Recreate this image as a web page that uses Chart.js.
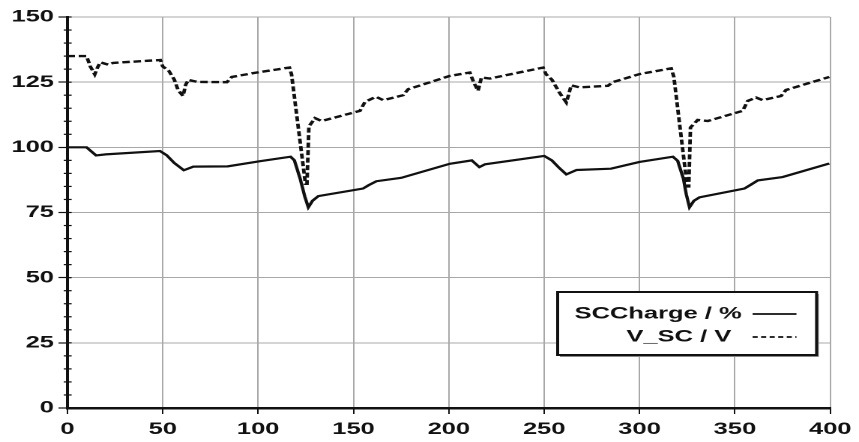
<!DOCTYPE html>
<html>
<head>
<meta charset="utf-8">
<script src="https://cdn.jsdelivr.net/npm/chart.js@4/dist/chart.umd.min.js"></script>
<style>
  html, body { margin: 0; padding: 0; background: #fff; overflow: hidden; }
  #wrap { width: 573px; height: 442px; transform: scaleX(1.4991); transform-origin: 0 0; }
</style>
</head>
<body>
<div id="wrap"><canvas id="c" width="573" height="442"></canvas></div>
<script>
// ---- data ----
const seriesLabels = ['SCCharge / %', 'V_SC / V'];

const chargeTime = [0,10,15,20,48.5,52,56,61,66,84,101,117,119,122,124.5,126.3,128.5,131.6,155,158,162,175,200.5,212,216,219,250,254,258,261.6,267,285,300,317.5,320,323,324.5,326.2,328.5,331.4,355,358,362,375,399.5];
const chargeValue = [100,100,96.9,97.3,98.6,97,94,91.2,92.6,92.7,94.7,96.4,95,88,81,77,79.5,81.3,84.2,85.5,87,88.3,93.7,95,92.4,93.5,96.7,95,92,89.6,91.3,91.8,94.4,96.4,94.8,88,82,77,79.5,80.8,84.2,85.5,87.3,88.6,93.8];

const voltageTime = [0,10,12,14.3,16,17.3,21.5,24,48.7,50,53,56,58,60.6,62,63.4,68,83.6,86.2,99.3,116.4,117.5,124.8,125.6,126.6,129.8,133.3,153.4,156,161.8,165.6,176,178.7,200.5,211,213,215.3,217.1,221.5,249.4,251,254,258,261.6,264.2,268.6,283.4,286,300,316.6,318,325,325.8,326.7,330.5,335.8,354.1,356.7,361.1,364.6,374.2,376.8,399.5];
const voltageValue = [135,135,131,128,131,132.6,131.7,132.4,133.5,131,129.5,126,122,119.7,124,125.9,125.1,125,127,128.7,130.6,128,86,86,108,111.2,110.1,114,117.4,119.4,118.1,120,122.3,127.4,128.7,125,121.7,126.8,126.4,130.6,128,126,121,117.2,123.8,123,123.6,125,128.1,130.3,127,85,85,107.6,110.5,110.1,114,117.8,119.1,118.1,119.7,122,127];

const xMin = 0, xMax = 400, xStep = 50;
const yMin = 0, yMax = 150, yStep = 25, yMinorStep = 5;

// ---- chart ----
const FONT = { family: '"Liberation Sans", Arial, sans-serif', size: 17, weight: 'bold' };
const INK = '#111';
const GRID = '#a8a8a8';

const toPoints = (t, v) => t.map((x, i) => ({ x, y: v[i] }));

const extras = {
  id: 'extras',
  afterDraw(chart) {
    const ctx = chart.ctx;
    const ys = chart.scales.y;
    const ax = chart.chartArea.left;
    ctx.save();
    // minor / inner ticks on the y axis
    ctx.strokeStyle = INK;
    ctx.lineWidth = 1.2;
    for (let v = yMin; v <= yMax; v += yMinorStep) {
      const py = ys.getPixelForValue(v);
      const major = v % yStep === 0;
      ctx.beginPath();
      ctx.moveTo(ax - (major ? 0 : 2.5), py);
      ctx.lineTo(ax + 2.8, py);
      ctx.stroke();
    }
    // legend box
    const L = 372, R = 544.7, T = 292, B = 355;
    ctx.fillStyle = '#888';
    ctx.fillRect(L + 1.5, T + 2, R - L, B - T);
    ctx.fillStyle = '#fff';
    ctx.fillRect(L, T, R - L, B - T);
    ctx.strokeStyle = INK;
    ctx.lineWidth = 2;
    ctx.strokeRect(L, T, R - L, B - T);
    ctx.font = `${FONT.weight} ${FONT.size}px ${FONT.family}`;
    ctx.fillStyle = INK;
    ctx.textAlign = 'right';
    ctx.textBaseline = 'middle';
    const rows = [
      { text: seriesLabels[0], right: 494.7, y: 314, dash: [] },
      { text: seriesLabels[1], right: 487.8, y: 337, dash: [3.4, 2.3] }
    ];
    rows.forEach(r => {
      ctx.fillText(r.text, r.right, r.y);
      ctx.beginPath();
      ctx.setLineDash(r.dash);
      ctx.lineWidth = 1.8;
      ctx.moveTo(502, r.y);
      ctx.lineTo(531.3, r.y);
      ctx.stroke();
    });
    ctx.restore();
  }
};

new Chart(document.getElementById('c'), {
  type: 'line',
  data: {
    datasets: [
      {
        label: seriesLabels[0],
        data: toPoints(chargeTime, chargeValue),
        borderColor: INK,
        borderWidth: 2.2,
        pointRadius: 0,
        tension: 0,
        fill: false
      },
      {
        label: seriesLabels[1],
        data: toPoints(voltageTime, voltageValue),
        borderColor: INK,
        borderWidth: 2.4,
        borderDash: [5, 2.5],
        pointRadius: 0,
        tension: 0,
        fill: false
      }
    ]
  },
  options: {
    responsive: false,
    devicePixelRatio: 2,
    animation: false,
    layout: { padding: { top: 17, right: 19, bottom: 0, left: 0 } },
    plugins: {
      legend: { display: false },
      tooltip: { enabled: false },
      title: { display: false }
    },
    scales: {
      x: {
        type: 'linear',
        min: xMin, max: xMax,
        ticks: { stepSize: xStep, color: INK, font: FONT, padding: 5, maxRotation: 0 },
        grid: {
          display: true, drawOnChartArea: true,
          color: GRID, lineWidth: 1,
          tickColor: INK, tickWidth: 1, tickLength: 6
        },
        border: { display: true, color: INK, width: 2.5 },
        afterFit(s) { s.height = 34; }
      },
      y: {
        type: 'linear',
        min: yMin, max: yMax,
        ticks: { stepSize: yStep, color: INK, font: FONT, padding: 3 },
        grid: {
          display: true, drawOnChartArea: true,
          color: GRID, lineWidth: 1,
          tickColor: INK, tickWidth: 1.2, tickLength: 6
        },
        border: { display: true, color: INK, width: 2 },
        afterFit(s) { s.width = 45; }
      }
    }
  },
  plugins: [extras]
});
</script>
</body>
</html>
